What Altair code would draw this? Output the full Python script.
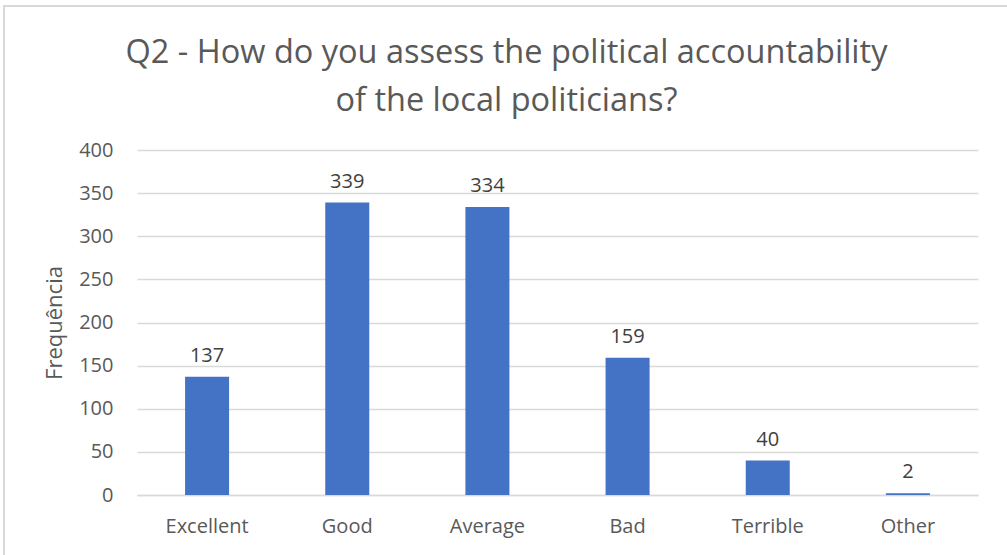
import altair as alt
import pandas as pd

categories = ["Excellent", "Good", "Average", "Bad", "Terrible", "Other"]
values = [137, 339, 334, 159, 40, 2]
y_ticks = [0, 50, 100, 150, 200, 250, 300, 350, 400]

df = pd.DataFrame({"cat": categories, "val": values})

FONT = "Open Sans"
GRAY = "#595959"

x = alt.X("cat:N", sort=categories, title=None,
          scale=alt.Scale(paddingInner=0.686, paddingOuter=0.343),
          axis=alt.Axis(labelAngle=0, labelFontSize=20, labelColor=GRAY,
                        labelFont=FONT, labelPadding=21, ticks=False,
                        domain=True, domainColor="#d9d9d9", domainWidth=1.3,
                        grid=False))
y = alt.Y("val:Q", title="Frequência",
          scale=alt.Scale(domain=[0, 400], nice=False),
          axis=alt.Axis(values=y_ticks, labelFontSize=20, labelColor=GRAY,
                        labelFont=FONT, labelPadding=24, ticks=False, domain=False,
                        grid=True, gridColor="#d9d9d9", gridWidth=1.3,
                        titleFontSize=22, titleFont=FONT, titleColor=GRAY,
                        titleFontWeight="normal", titlePadding=12))

frame = alt.Chart(df).mark_rect(fill=None, stroke="#d9d9d9", strokeWidth=1.5).encode(
    x=alt.value(-133), x2=alt.value(880), y=alt.value(-144), y2=alt.value(420))

bars = alt.Chart(df).mark_bar(color="#4472C4").encode(x=x, y=y)
labels = alt.Chart(df).mark_text(baseline="bottom", dy=-11, fontSize=20,
                                 font=FONT, color="#404040").encode(
    x=alt.X("cat:N", sort=categories), y="val:Q", text="val:Q")

chart = (frame + bars + labels).properties(
    width=841, height=345,
    title=alt.TitleParams(
        ["Q2 - How do you assess the political accountability",
         "of the local politicians?"],
        fontSize=32.5, font=FONT, fontWeight="normal", color=GRAY,
        anchor="middle", dx=-51, offset=-112, lineHeight=48),
    autosize=alt.AutoSizeParams(type="none"),
    padding={"left": 137, "top": 150, "right": 29, "bottom": 60},
).configure(background="white").configure_view(stroke=None)

chart.save("out.html", embed_options={"renderer": "svg", "actions": False})
